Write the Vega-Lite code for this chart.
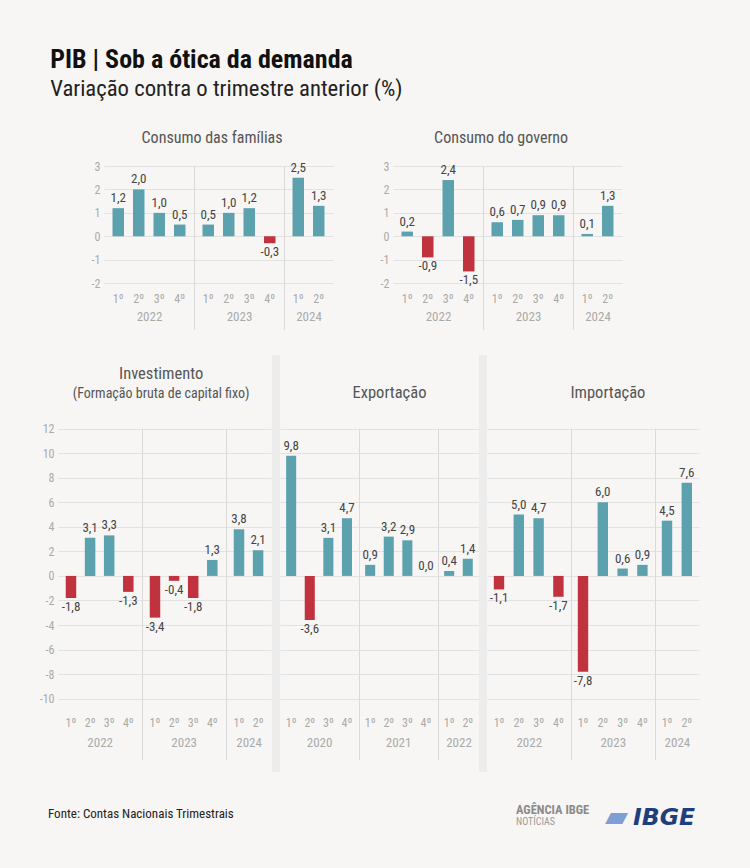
{
  "$schema": "https://vega.github.io/schema/vega-lite/v6.json",
  "background": "#f7f6f4",
  "padding": {"left": 39, "top": 47, "right": 52, "bottom": 39},
  "title": {"text": "PIB | Sob a ótica da demanda", "subtitle": "Variação contra o trimestre anterior (%)", "anchor": "start", "dx": 11, "fontSize": 26, "fontWeight": "bold", "color": "#111111", "subtitleFontSize": 22.7, "subtitleColor": "#222222", "subtitlePadding": 5, "offset": 29, "font": "Liberation Sans Narrow, Roboto Condensed, Roboto, sans-serif", "subtitleFont": "Liberation Sans Narrow, Roboto Condensed, Roboto, sans-serif"},
  "config": {
    "font": "Liberation Sans Narrow, Roboto Condensed, Roboto, sans-serif",
    "view": {"stroke": null},
    "locale": {"number": {"decimal": ",", "thousands": ".", "grouping": [3], "currency": ["R$", ""], "minus": "-"}},
    "axis": {"gridColor": "#e2e2e2", "labelColor": "#aaaaaa", "labelFontSize": 12, "titleColor": "#aaaaaa", "titleFontWeight": "normal", "titleFontSize": 13, "ticks": false, "domain": false, "labelOverlap": false},
    "axisX": {"grid": false, "labelAngle": 0, "labelPadding": 2},
    "axisY": {"grid": true, "labelPadding": 4},
    "title": {"fontSize": 16, "fontWeight": "normal", "color": "#555555", "subtitleColor": "#555555", "anchor": "middle"},
    "text": {"fontSize": 13, "color": "#444444"},
    "concat": {"spacing": 0}
  },
  "datasets": {
    "pib": [
      {"painel": "Famílias", "ano": "2022", "tri": "1º", "valor": 1.2},
      {"painel": "Famílias", "ano": "2022", "tri": "2º", "valor": 2.0},
      {"painel": "Famílias", "ano": "2022", "tri": "3º", "valor": 1.0},
      {"painel": "Famílias", "ano": "2022", "tri": "4º", "valor": 0.5},
      {"painel": "Famílias", "ano": "2023", "tri": "1º", "valor": 0.5},
      {"painel": "Famílias", "ano": "2023", "tri": "2º", "valor": 1.0},
      {"painel": "Famílias", "ano": "2023", "tri": "3º", "valor": 1.2},
      {"painel": "Famílias", "ano": "2023", "tri": "4º", "valor": -0.3},
      {"painel": "Famílias", "ano": "2024", "tri": "1º", "valor": 2.5},
      {"painel": "Famílias", "ano": "2024", "tri": "2º", "valor": 1.3},
      {"painel": "Governo", "ano": "2022", "tri": "1º", "valor": 0.2},
      {"painel": "Governo", "ano": "2022", "tri": "2º", "valor": -0.9},
      {"painel": "Governo", "ano": "2022", "tri": "3º", "valor": 2.4},
      {"painel": "Governo", "ano": "2022", "tri": "4º", "valor": -1.5},
      {"painel": "Governo", "ano": "2023", "tri": "1º", "valor": 0.6},
      {"painel": "Governo", "ano": "2023", "tri": "2º", "valor": 0.7},
      {"painel": "Governo", "ano": "2023", "tri": "3º", "valor": 0.9},
      {"painel": "Governo", "ano": "2023", "tri": "4º", "valor": 0.9},
      {"painel": "Governo", "ano": "2024", "tri": "1º", "valor": 0.1},
      {"painel": "Governo", "ano": "2024", "tri": "2º", "valor": 1.3},
      {"painel": "Investimento", "ano": "2022", "tri": "1º", "valor": -1.8},
      {"painel": "Investimento", "ano": "2022", "tri": "2º", "valor": 3.1},
      {"painel": "Investimento", "ano": "2022", "tri": "3º", "valor": 3.3},
      {"painel": "Investimento", "ano": "2022", "tri": "4º", "valor": -1.3},
      {"painel": "Investimento", "ano": "2023", "tri": "1º", "valor": -3.4},
      {"painel": "Investimento", "ano": "2023", "tri": "2º", "valor": -0.4},
      {"painel": "Investimento", "ano": "2023", "tri": "3º", "valor": -1.8},
      {"painel": "Investimento", "ano": "2023", "tri": "4º", "valor": 1.3},
      {"painel": "Investimento", "ano": "2024", "tri": "1º", "valor": 3.8},
      {"painel": "Investimento", "ano": "2024", "tri": "2º", "valor": 2.1},
      {"painel": "Exportação", "ano": "2020", "tri": "1º", "valor": 9.8},
      {"painel": "Exportação", "ano": "2020", "tri": "2º", "valor": -3.6},
      {"painel": "Exportação", "ano": "2020", "tri": "3º", "valor": 3.1},
      {"painel": "Exportação", "ano": "2020", "tri": "4º", "valor": 4.7},
      {"painel": "Exportação", "ano": "2021", "tri": "1º", "valor": 0.9},
      {"painel": "Exportação", "ano": "2021", "tri": "2º", "valor": 3.2},
      {"painel": "Exportação", "ano": "2021", "tri": "3º", "valor": 2.9},
      {"painel": "Exportação", "ano": "2021", "tri": "4º", "valor": 0.0},
      {"painel": "Exportação", "ano": "2022", "tri": "1º", "valor": 0.4},
      {"painel": "Exportação", "ano": "2022", "tri": "2º", "valor": 1.4},
      {"painel": "Importação", "ano": "2022", "tri": "1º", "valor": -1.1},
      {"painel": "Importação", "ano": "2022", "tri": "2º", "valor": 5.0},
      {"painel": "Importação", "ano": "2022", "tri": "3º", "valor": 4.7},
      {"painel": "Importação", "ano": "2022", "tri": "4º", "valor": -1.7},
      {"painel": "Importação", "ano": "2023", "tri": "1º", "valor": -7.8},
      {"painel": "Importação", "ano": "2023", "tri": "2º", "valor": 6.0},
      {"painel": "Importação", "ano": "2023", "tri": "3º", "valor": 0.6},
      {"painel": "Importação", "ano": "2023", "tri": "4º", "valor": 0.9},
      {"painel": "Importação", "ano": "2024", "tri": "1º", "valor": 4.5},
      {"painel": "Importação", "ano": "2024", "tri": "2º", "valor": 7.6}
    ]
  },
  "spacing": 25,
  "vconcat": [
    {
      "hconcat": [
        {"width": 32.5, "height": 1, "data": {"values": []}, "mark": "point"},
        {
          "spacing": 47,
          "hconcat": [
            {
              "title": {"text": "Consumo das famílias", "offset": 14},
              "hconcat": [
                {"width": {"step": 20.5}, "height": 164, "data": {"name": "pib"},
                 "transform": [{"filter": "datum.painel == 'Famílias' && datum.ano == '2022'"}],
                 "encoding": {"x": {"field": "tri", "type": "nominal", "sort": null, "scale": {"paddingInner": 0.44, "paddingOuter": 0.415}, "axis": {"title": "2022", "offset": -38.5, "titlePadding": 5.5}},
                              "y": {"field": "valor", "type": "quantitative", "scale": {"domain": [-4, 3], "nice": false}, "axis": {"values": [-2, -1, 0, 1, 2, 3], "format": "d", "title": null}}},
                 "layer": [
                   {"mark": {"type": "bar"}, "encoding": {"color": {"condition": {"test": "datum.valor < 0", "value": "#c1323f"}, "value": "#5ba1ae"}}},
                   {"transform": [{"filter": "datum.valor >= 0"}], "mark": {"type": "text", "baseline": "bottom", "dy": -3}, "encoding": {"text": {"field": "valor", "type": "quantitative", "format": ".1f"}}},
                   {"transform": [{"filter": "datum.valor < 0"}], "mark": {"type": "text", "baseline": "top", "dy": 3}, "encoding": {"text": {"field": "valor", "type": "quantitative", "format": ".1f"}}}
                 ]},
                {"width": {"step": 20.5}, "height": 164, "data": {"name": "pib"},
                 "transform": [{"filter": "datum.painel == 'Famílias' && datum.ano == '2023'"}],
                 "encoding": {"x": {"field": "tri", "type": "nominal", "sort": null, "scale": {"paddingInner": 0.44, "paddingOuter": 0.415}, "axis": {"title": "2023", "offset": -38.5, "titlePadding": 5.5}},
                              "y": {"field": "valor", "type": "quantitative", "scale": {"domain": [-4, 3], "nice": false}, "axis": {"values": [-2, -1, 0, 1, 2, 3], "labels": false, "title": null}}},
                 "layer": [
                   {"mark": {"type": "bar"}, "encoding": {"color": {"condition": {"test": "datum.valor < 0", "value": "#c1323f"}, "value": "#5ba1ae"}}},
                   {"transform": [{"filter": "datum.valor >= 0"}], "mark": {"type": "text", "baseline": "bottom", "dy": -3}, "encoding": {"text": {"field": "valor", "type": "quantitative", "format": ".1f"}}},
                   {"transform": [{"filter": "datum.valor < 0"}], "mark": {"type": "text", "baseline": "top", "dy": 3}, "encoding": {"text": {"field": "valor", "type": "quantitative", "format": ".1f"}}},
                   {"transform": [{"filter": "datum.tri == '1º'"}], "mark": {"type": "rule", "color": "#dadada", "clip": true}, "encoding": {"x": {"datum": "1º", "type": "nominal", "bandPosition": -0.698}, "y": {"datum": 3}, "y2": {"datum": -4}}}
                 ]},
                {"width": {"step": 20.5}, "height": 164, "data": {"name": "pib"},
                 "transform": [{"filter": "datum.painel == 'Famílias' && datum.ano == '2024'"}],
                 "encoding": {"x": {"field": "tri", "type": "nominal", "sort": null, "scale": {"paddingInner": 0.44, "paddingOuter": 0.415}, "axis": {"title": "2024", "offset": -38.5, "titlePadding": 5.5}},
                              "y": {"field": "valor", "type": "quantitative", "scale": {"domain": [-4, 3], "nice": false}, "axis": {"values": [-2, -1, 0, 1, 2, 3], "labels": false, "title": null}}},
                 "layer": [
                   {"mark": {"type": "bar"}, "encoding": {"color": {"condition": {"test": "datum.valor < 0", "value": "#c1323f"}, "value": "#5ba1ae"}}},
                   {"transform": [{"filter": "datum.valor >= 0"}], "mark": {"type": "text", "baseline": "bottom", "dy": -3}, "encoding": {"text": {"field": "valor", "type": "quantitative", "format": ".1f"}}},
                   {"transform": [{"filter": "datum.valor < 0"}], "mark": {"type": "text", "baseline": "top", "dy": 3}, "encoding": {"text": {"field": "valor", "type": "quantitative", "format": ".1f"}}},
                   {"transform": [{"filter": "datum.tri == '1º'"}], "mark": {"type": "rule", "color": "#dadada", "clip": true}, "encoding": {"x": {"datum": "1º", "type": "nominal", "bandPosition": -0.698}, "y": {"datum": 3}, "y2": {"datum": -4}}}
                 ]}
              ]
            },
            {
              "title": {"text": "Consumo do governo", "offset": 14},
              "hconcat": [
                {"width": {"step": 20.5}, "height": 164, "data": {"name": "pib"},
                 "transform": [{"filter": "datum.painel == 'Governo' && datum.ano == '2022'"}],
                 "encoding": {"x": {"field": "tri", "type": "nominal", "sort": null, "scale": {"paddingInner": 0.44, "paddingOuter": 0.415}, "axis": {"title": "2022", "offset": -38.5, "titlePadding": 5.5}},
                              "y": {"field": "valor", "type": "quantitative", "scale": {"domain": [-4, 3], "nice": false}, "axis": {"values": [-2, -1, 0, 1, 2, 3], "format": "d", "title": null}}},
                 "layer": [
                   {"mark": {"type": "bar"}, "encoding": {"color": {"condition": {"test": "datum.valor < 0", "value": "#c1323f"}, "value": "#5ba1ae"}}},
                   {"transform": [{"filter": "datum.valor >= 0"}], "mark": {"type": "text", "baseline": "bottom", "dy": -3}, "encoding": {"text": {"field": "valor", "type": "quantitative", "format": ".1f"}}},
                   {"transform": [{"filter": "datum.valor < 0"}], "mark": {"type": "text", "baseline": "top", "dy": 3}, "encoding": {"text": {"field": "valor", "type": "quantitative", "format": ".1f"}}}
                 ]},
                {"width": {"step": 20.5}, "height": 164, "data": {"name": "pib"},
                 "transform": [{"filter": "datum.painel == 'Governo' && datum.ano == '2023'"}],
                 "encoding": {"x": {"field": "tri", "type": "nominal", "sort": null, "scale": {"paddingInner": 0.44, "paddingOuter": 0.415}, "axis": {"title": "2023", "offset": -38.5, "titlePadding": 5.5}},
                              "y": {"field": "valor", "type": "quantitative", "scale": {"domain": [-4, 3], "nice": false}, "axis": {"values": [-2, -1, 0, 1, 2, 3], "labels": false, "title": null}}},
                 "layer": [
                   {"mark": {"type": "bar"}, "encoding": {"color": {"condition": {"test": "datum.valor < 0", "value": "#c1323f"}, "value": "#5ba1ae"}}},
                   {"transform": [{"filter": "datum.valor >= 0"}], "mark": {"type": "text", "baseline": "bottom", "dy": -3}, "encoding": {"text": {"field": "valor", "type": "quantitative", "format": ".1f"}}},
                   {"transform": [{"filter": "datum.valor < 0"}], "mark": {"type": "text", "baseline": "top", "dy": 3}, "encoding": {"text": {"field": "valor", "type": "quantitative", "format": ".1f"}}},
                   {"transform": [{"filter": "datum.tri == '1º'"}], "mark": {"type": "rule", "color": "#dadada", "clip": true}, "encoding": {"x": {"datum": "1º", "type": "nominal", "bandPosition": -0.698}, "y": {"datum": 3}, "y2": {"datum": -4}}}
                 ]},
                {"width": {"step": 20.5}, "height": 164, "data": {"name": "pib"},
                 "transform": [{"filter": "datum.painel == 'Governo' && datum.ano == '2024'"}],
                 "encoding": {"x": {"field": "tri", "type": "nominal", "sort": null, "scale": {"paddingInner": 0.44, "paddingOuter": 0.415}, "axis": {"title": "2024", "offset": -38.5, "titlePadding": 5.5}},
                              "y": {"field": "valor", "type": "quantitative", "scale": {"domain": [-4, 3], "nice": false}, "axis": {"values": [-2, -1, 0, 1, 2, 3], "labels": false, "title": null}}},
                 "layer": [
                   {"mark": {"type": "bar"}, "encoding": {"color": {"condition": {"test": "datum.valor < 0", "value": "#c1323f"}, "value": "#5ba1ae"}}},
                   {"transform": [{"filter": "datum.valor >= 0"}], "mark": {"type": "text", "baseline": "bottom", "dy": -3}, "encoding": {"text": {"field": "valor", "type": "quantitative", "format": ".1f"}}},
                   {"transform": [{"filter": "datum.valor < 0"}], "mark": {"type": "text", "baseline": "top", "dy": 3}, "encoding": {"text": {"field": "valor", "type": "quantitative", "format": ".1f"}}},
                   {"transform": [{"filter": "datum.tri == '1º'"}], "mark": {"type": "rule", "color": "#dadada", "clip": true}, "encoding": {"x": {"datum": "1º", "type": "nominal", "bandPosition": -0.698}, "y": {"datum": 3}, "y2": {"datum": -4}}}
                 ]}
              ]
            }
          ]
        }
      ]
    },
    {
      "hconcat": [
        {
          "title": {"text": "Investimento", "subtitle": "(Formação bruta de capital fixo)", "offset": -46, "dx": 6, "fontSize": 16.5, "subtitleFontSize": 14, "subtitlePadding": 5},
          "hconcat": [
            {"width": {"step": 19.1}, "height": 405, "data": {"name": "pib"},
             "transform": [{"filter": "datum.painel == 'Investimento' && datum.ano == '2022'"}],
             "encoding": {"x": {"field": "tri", "type": "nominal", "sort": null, "scale": {"paddingInner": 0.45, "paddingOuter": 0.405}, "axis": {"title": "2022", "offset": -45, "titlePadding": 8}},
                          "y": {"field": "valor", "type": "quantitative", "scale": {"domain": [-15, 18], "nice": false}, "axis": {"values": [-10, -8, -6, -4, -2, 0, 2, 4, 6, 8, 10, 12], "format": "d", "title": null}}},
             "layer": [
               {"mark": {"type": "bar"}, "encoding": {"color": {"condition": {"test": "datum.valor < 0", "value": "#c1323f"}, "value": "#5ba1ae"}}},
               {"transform": [{"filter": "datum.valor >= 0"}], "mark": {"type": "text", "baseline": "bottom", "dy": -3}, "encoding": {"text": {"field": "valor", "type": "quantitative", "format": ".1f"}}},
               {"transform": [{"filter": "datum.valor < 0"}], "mark": {"type": "text", "baseline": "top", "dy": 3}, "encoding": {"text": {"field": "valor", "type": "quantitative", "format": ".1f"}}}
             ]},
            {"width": {"step": 19.1}, "height": 405, "data": {"name": "pib"},
             "transform": [{"filter": "datum.painel == 'Investimento' && datum.ano == '2023'"}],
             "encoding": {"x": {"field": "tri", "type": "nominal", "sort": null, "scale": {"paddingInner": 0.45, "paddingOuter": 0.405}, "axis": {"title": "2023", "offset": -45, "titlePadding": 8}},
                          "y": {"field": "valor", "type": "quantitative", "scale": {"domain": [-15, 18], "nice": false}, "axis": {"values": [-10, -8, -6, -4, -2, 0, 2, 4, 6, 8, 10, 12], "labels": false, "title": null}}},
             "layer": [
               {"mark": {"type": "bar"}, "encoding": {"color": {"condition": {"test": "datum.valor < 0", "value": "#c1323f"}, "value": "#5ba1ae"}}},
               {"transform": [{"filter": "datum.valor >= 0"}], "mark": {"type": "text", "baseline": "bottom", "dy": -3}, "encoding": {"text": {"field": "valor", "type": "quantitative", "format": ".1f"}}},
               {"transform": [{"filter": "datum.valor < 0"}], "mark": {"type": "text", "baseline": "top", "dy": 3}, "encoding": {"text": {"field": "valor", "type": "quantitative", "format": ".1f"}}},
               {"transform": [{"filter": "datum.tri == '1º'"}], "mark": {"type": "rule", "color": "#dadada", "clip": true}, "encoding": {"x": {"datum": "1º", "type": "nominal", "bandPosition": -0.689}, "y": {"datum": 12}, "y2": {"datum": -15}}}
             ]},
            {"width": {"step": 19.1}, "height": 405, "data": {"name": "pib"},
             "transform": [{"filter": "datum.painel == 'Investimento' && datum.ano == '2024'"}],
             "encoding": {"x": {"field": "tri", "type": "nominal", "sort": null, "scale": {"paddingInner": 0.45, "paddingOuter": 0.405}, "axis": {"title": "2024", "offset": -45, "titlePadding": 8}},
                          "y": {"field": "valor", "type": "quantitative", "scale": {"domain": [-15, 18], "nice": false}, "axis": {"values": [-10, -8, -6, -4, -2, 0, 2, 4, 6, 8, 10, 12], "labels": false, "title": null}}},
             "layer": [
               {"mark": {"type": "bar"}, "encoding": {"color": {"condition": {"test": "datum.valor < 0", "value": "#c1323f"}, "value": "#5ba1ae"}}},
               {"transform": [{"filter": "datum.valor >= 0"}], "mark": {"type": "text", "baseline": "bottom", "dy": -3}, "encoding": {"text": {"field": "valor", "type": "quantitative", "format": ".1f"}}},
               {"transform": [{"filter": "datum.valor < 0"}], "mark": {"type": "text", "baseline": "top", "dy": 3}, "encoding": {"text": {"field": "valor", "type": "quantitative", "format": ".1f"}}},
               {"transform": [{"filter": "datum.tri == '1º'"}], "mark": {"type": "rule", "color": "#dadada", "clip": true}, "encoding": {"x": {"datum": "1º", "type": "nominal", "bandPosition": -0.689}, "y": {"datum": 12}, "y2": {"datum": -15}}}
             ]}
          ]
        },
        {"width": 8, "height": 417, "view": {"fill": "#ececec"}, "data": {"values": []}, "mark": "rect"},
        {
          "title": {"text": "Exportação", "offset": -46, "dx": 10, "fontSize": 16.5},
          "hconcat": [
            {"width": {"step": 18.6}, "height": 405, "data": {"name": "pib"},
             "transform": [{"filter": "datum.painel == 'Exportação' && datum.ano == '2020'"}],
             "encoding": {"x": {"field": "tri", "type": "nominal", "sort": null, "scale": {"paddingInner": 0.46, "paddingOuter": 0.33}, "axis": {"title": "2020", "offset": -45, "titlePadding": 8}},
                          "y": {"field": "valor", "type": "quantitative", "scale": {"domain": [-15, 18], "nice": false}, "axis": {"values": [-10, -8, -6, -4, -2, 0, 2, 4, 6, 8, 10, 12], "labels": false, "title": null}}},
             "layer": [
               {"mark": {"type": "bar"}, "encoding": {"color": {"condition": {"test": "datum.valor < 0", "value": "#c1323f"}, "value": "#5ba1ae"}}},
               {"transform": [{"filter": "datum.valor >= 0"}], "mark": {"type": "text", "baseline": "bottom", "dy": -3}, "encoding": {"text": {"field": "valor", "type": "quantitative", "format": ".1f"}}},
               {"transform": [{"filter": "datum.valor < 0"}], "mark": {"type": "text", "baseline": "top", "dy": 3}, "encoding": {"text": {"field": "valor", "type": "quantitative", "format": ".1f"}}}
             ]},
            {"width": {"step": 18.6}, "height": 405, "data": {"name": "pib"},
             "transform": [{"filter": "datum.painel == 'Exportação' && datum.ano == '2021'"}],
             "encoding": {"x": {"field": "tri", "type": "nominal", "sort": null, "scale": {"paddingInner": 0.46, "paddingOuter": 0.33}, "axis": {"title": "2021", "offset": -45, "titlePadding": 8}},
                          "y": {"field": "valor", "type": "quantitative", "scale": {"domain": [-15, 18], "nice": false}, "axis": {"values": [-10, -8, -6, -4, -2, 0, 2, 4, 6, 8, 10, 12], "labels": false, "title": null}}},
             "layer": [
               {"mark": {"type": "bar"}, "encoding": {"color": {"condition": {"test": "datum.valor < 0", "value": "#c1323f"}, "value": "#5ba1ae"}}},
               {"transform": [{"filter": "datum.valor >= 0"}], "mark": {"type": "text", "baseline": "bottom", "dy": -3}, "encoding": {"text": {"field": "valor", "type": "quantitative", "format": ".1f"}}},
               {"transform": [{"filter": "datum.valor < 0"}], "mark": {"type": "text", "baseline": "top", "dy": 3}, "encoding": {"text": {"field": "valor", "type": "quantitative", "format": ".1f"}}},
               {"transform": [{"filter": "datum.tri == '1º'"}], "mark": {"type": "rule", "color": "#dadada", "clip": true}, "encoding": {"x": {"datum": "1º", "type": "nominal", "bandPosition": -0.562}, "y": {"datum": 12}, "y2": {"datum": -15}}}
             ]},
            {"width": {"step": 18.6}, "height": 405, "data": {"name": "pib"},
             "transform": [{"filter": "datum.painel == 'Exportação' && datum.ano == '2022'"}],
             "encoding": {"x": {"field": "tri", "type": "nominal", "sort": null, "scale": {"paddingInner": 0.46, "paddingOuter": 0.33}, "axis": {"title": "2022", "offset": -45, "titlePadding": 8}},
                          "y": {"field": "valor", "type": "quantitative", "scale": {"domain": [-15, 18], "nice": false}, "axis": {"values": [-10, -8, -6, -4, -2, 0, 2, 4, 6, 8, 10, 12], "labels": false, "title": null}}},
             "layer": [
               {"mark": {"type": "bar"}, "encoding": {"color": {"condition": {"test": "datum.valor < 0", "value": "#c1323f"}, "value": "#5ba1ae"}}},
               {"transform": [{"filter": "datum.valor >= 0"}], "mark": {"type": "text", "baseline": "bottom", "dy": -3}, "encoding": {"text": {"field": "valor", "type": "quantitative", "format": ".1f"}}},
               {"transform": [{"filter": "datum.valor < 0"}], "mark": {"type": "text", "baseline": "top", "dy": 3}, "encoding": {"text": {"field": "valor", "type": "quantitative", "format": ".1f"}}},
               {"transform": [{"filter": "datum.tri == '1º'"}], "mark": {"type": "rule", "color": "#dadada", "clip": true}, "encoding": {"x": {"datum": "1º", "type": "nominal", "bandPosition": -0.562}, "y": {"datum": 12}, "y2": {"datum": -15}}}
             ]}
          ]
        },
        {"width": 8, "height": 417, "view": {"fill": "#ececec"}, "data": {"values": []}, "mark": "rect"},
        {
          "title": {"text": "Importação", "offset": -46, "dx": 15, "fontSize": 16.5},
          "hconcat": [
            {"width": {"step": 19.8}, "height": 405, "data": {"name": "pib"},
             "transform": [{"filter": "datum.painel == 'Importação' && datum.ano == '2022'"}],
             "encoding": {"x": {"field": "tri", "type": "nominal", "sort": null, "scale": {"paddingInner": 0.475, "paddingOuter": 0.344}, "axis": {"title": "2022", "offset": -45, "titlePadding": 8}},
                          "y": {"field": "valor", "type": "quantitative", "scale": {"domain": [-15, 18], "nice": false}, "axis": {"values": [-10, -8, -6, -4, -2, 0, 2, 4, 6, 8, 10, 12], "labels": false, "title": null}}},
             "layer": [
               {"mark": {"type": "bar"}, "encoding": {"color": {"condition": {"test": "datum.valor < 0", "value": "#c1323f"}, "value": "#5ba1ae"}}},
               {"transform": [{"filter": "datum.valor >= 0"}], "mark": {"type": "text", "baseline": "bottom", "dy": -3}, "encoding": {"text": {"field": "valor", "type": "quantitative", "format": ".1f"}}},
               {"transform": [{"filter": "datum.valor < 0"}], "mark": {"type": "text", "baseline": "top", "dy": 3}, "encoding": {"text": {"field": "valor", "type": "quantitative", "format": ".1f"}}}
             ]},
            {"width": {"step": 19.8}, "height": 405, "data": {"name": "pib"},
             "transform": [{"filter": "datum.painel == 'Importação' && datum.ano == '2023'"}],
             "encoding": {"x": {"field": "tri", "type": "nominal", "sort": null, "scale": {"paddingInner": 0.475, "paddingOuter": 0.344}, "axis": {"title": "2023", "offset": -45, "titlePadding": 8}},
                          "y": {"field": "valor", "type": "quantitative", "scale": {"domain": [-15, 18], "nice": false}, "axis": {"values": [-10, -8, -6, -4, -2, 0, 2, 4, 6, 8, 10, 12], "labels": false, "title": null}}},
             "layer": [
               {"mark": {"type": "bar"}, "encoding": {"color": {"condition": {"test": "datum.valor < 0", "value": "#c1323f"}, "value": "#5ba1ae"}}},
               {"transform": [{"filter": "datum.valor >= 0"}], "mark": {"type": "text", "baseline": "bottom", "dy": -3}, "encoding": {"text": {"field": "valor", "type": "quantitative", "format": ".1f"}}},
               {"transform": [{"filter": "datum.valor < 0"}], "mark": {"type": "text", "baseline": "top", "dy": 3}, "encoding": {"text": {"field": "valor", "type": "quantitative", "format": ".1f"}}},
               {"transform": [{"filter": "datum.tri == '1º'"}], "mark": {"type": "rule", "color": "#dadada", "clip": true}, "encoding": {"x": {"datum": "1º", "type": "nominal", "bandPosition": -0.607}, "y": {"datum": 12}, "y2": {"datum": -15}}}
             ]},
            {"width": {"step": 19.8}, "height": 405, "data": {"name": "pib"},
             "transform": [{"filter": "datum.painel == 'Importação' && datum.ano == '2024'"}],
             "encoding": {"x": {"field": "tri", "type": "nominal", "sort": null, "scale": {"paddingInner": 0.475, "paddingOuter": 0.344}, "axis": {"title": "2024", "offset": -45, "titlePadding": 8}},
                          "y": {"field": "valor", "type": "quantitative", "scale": {"domain": [-15, 18], "nice": false}, "axis": {"values": [-10, -8, -6, -4, -2, 0, 2, 4, 6, 8, 10, 12], "labels": false, "title": null}}},
             "layer": [
               {"mark": {"type": "bar"}, "encoding": {"color": {"condition": {"test": "datum.valor < 0", "value": "#c1323f"}, "value": "#5ba1ae"}}},
               {"transform": [{"filter": "datum.valor >= 0"}], "mark": {"type": "text", "baseline": "bottom", "dy": -3}, "encoding": {"text": {"field": "valor", "type": "quantitative", "format": ".1f"}}},
               {"transform": [{"filter": "datum.valor < 0"}], "mark": {"type": "text", "baseline": "top", "dy": 3}, "encoding": {"text": {"field": "valor", "type": "quantitative", "format": ".1f"}}},
               {"transform": [{"filter": "datum.tri == '1º'"}], "mark": {"type": "rule", "color": "#dadada", "clip": true}, "encoding": {"x": {"datum": "1º", "type": "nominal", "bandPosition": -0.607}, "y": {"datum": 12}, "y2": {"datum": -15}}}
             ]}
          ]
        }
      ]
    },
    {
      "hconcat": [
        {"width": 458, "height": 1, "data": {"values": []}, "mark": "point", "title": {"text": "Fonte: Contas Nacionais Trimestrais", "orient": "bottom", "anchor": "start", "dx": -10, "offset": 10, "fontSize": 13, "color": "#222222"}},
        {"width": 89, "height": 1, "data": {"values": []}, "mark": "point", "title": {"text": "AGÊNCIA IBGE", "subtitle": "NOTÍCIAS", "orient": "bottom", "anchor": "start", "offset": 6, "fontSize": 12.5, "fontWeight": "bold", "color": "#8a8a8a", "subtitleFontSize": 10, "subtitleColor": "#9a9a9a", "subtitlePadding": 0}},
        {"width": 28, "height": 1, "data": {"values": []}, "mark": "point", "title": {"text": "▰", "orient": "bottom", "anchor": "start", "offset": 4, "font": "DejaVu Sans", "fontSize": 30, "color": "#7f9fd4"}},
        {"width": 50, "height": 1, "data": {"values": []}, "mark": "point", "title": {"text": "IBGE", "orient": "bottom", "anchor": "start", "offset": 8, "font": "DejaVu Sans", "fontSize": 23.5, "fontWeight": "bold", "fontStyle": "italic", "color": "#1d3f7e"}}
      ]
    }
  ]
}
